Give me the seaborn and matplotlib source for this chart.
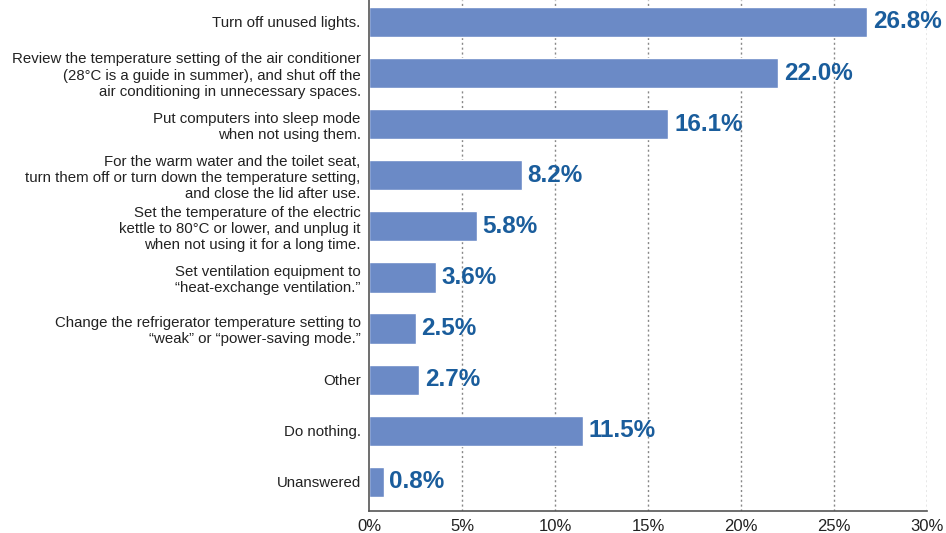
import matplotlib
matplotlib.use("Agg")
import matplotlib.pyplot as plt
import seaborn as sns
import pandas as pd

categories = [
    "Turn off unused lights.",
    "Review the temperature setting of the air conditioner\n(28\u00b0C is a guide in summer), and shut off the\nair conditioning in unnecessary spaces.",
    "Put computers into sleep mode\nwhen not using them.",
    "For the warm water and the toilet seat,\nturn them off or turn down the temperature setting,\nand close the lid after use.",
    "Set the temperature of the electric\nkettle to 80\u00b0C or lower, and unplug it\nwhen not using it for a long time.",
    "Set ventilation equipment to\n\u201cheat-exchange ventilation.\u201d",
    "Change the refrigerator temperature setting to\n\u201cweak\u201d or \u201cpower-saving mode.\u201d",
    "Other",
    "Do nothing.",
    "Unanswered",
]
values = [26.8, 22.0, 16.1, 8.2, 5.8, 3.6, 2.5, 2.7, 11.5, 0.8]
xticks = [0, 5, 10, 15, 20, 25, 30]
xticklabels = ["0%", "5%", "10%", "15%", "20%", "25%", "30%"]

sns.set_theme(style="white")
plt.rcParams["font.family"] = ["Liberation Sans", "DejaVu Sans"]

df = pd.DataFrame({"cat": categories, "val": values})

fig = plt.figure(figsize=(9.46, 5.33), dpi=100)
ax = fig.add_axes([369 / 946, 22 / 533, 558 / 946, 511 / 533])

sns.barplot(data=df, y="cat", x="val", orient="h", color="#6b8ac6",
            saturation=1, width=0.59, ax=ax)

ax.set_xlim(0, 30)
ax.set_ylim(9.57, -0.43)
ax.set_xticks(xticks)
ax.set_xticklabels(xticklabels, fontsize=12, color="#222222")
ax.set_xlabel("")
ax.set_ylabel("")
ax.tick_params(axis="y", labelsize=10.8, colors="#222222", length=0, pad=6)
ax.tick_params(axis="x", length=0, pad=6)
for lbl in ax.get_yticklabels():
    lbl.set_linespacing(1.2)

for x in xticks[1:]:
    ax.axvline(x, color="#888888", linestyle=(0, (1.5, 2)), linewidth=1, zorder=0)

for i, v in enumerate(values):
    ax.text(v + 0.3, i, f"{v:.1f}%", va="center", ha="left", fontsize=17.5,
            fontweight="bold", color="#1a5d9c")

for s in ["top", "right"]:
    ax.spines[s].set_visible(False)
for s in ["left", "bottom"]:
    ax.spines[s].set_color("#555555")
    ax.spines[s].set_linewidth(1.2)

fig.savefig("out.png", dpi=100)
